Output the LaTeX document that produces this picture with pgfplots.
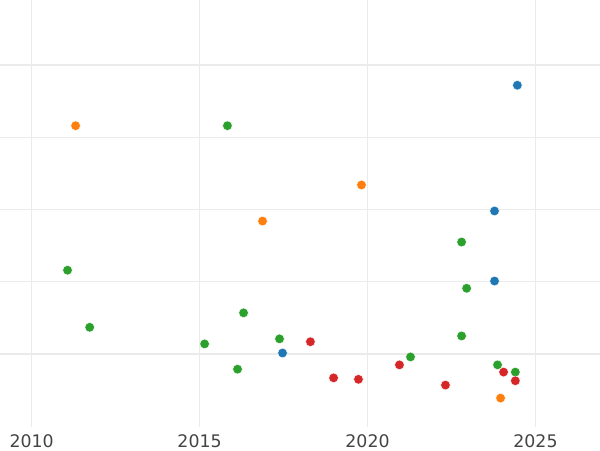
\documentclass[border=0pt]{standalone}
\usepackage{pgfplots}
\pgfplotsset{compat=1.18}
\usepackage{fontspec}
\setmainfont{DejaVu Sans}
\definecolor{cblue}{HTML}{1F77B4}
\definecolor{corange}{HTML}{FF7F0E}
\definecolor{cgreen}{HTML}{2CA02C}
\definecolor{cred}{HTML}{D62728}
\definecolor{gridc}{HTML}{EBEBEB}
\definecolor{tickc}{HTML}{444444}
\begin{document}
\begin{tikzpicture}
\path[use as bounding box] (0,-17.25pt) rectangle (450pt,320.25pt);
\begin{axis}[
  at={(0,0)}, anchor=south west,
  width=450pt, height=320.25pt, scale only axis,
  xmin=2009.06, xmax=2026.92,
  ymin=-1.01, ymax=4.9,
  axis line style={draw=none},
  xtick={2010,2015,2020,2025},
  ytick={0,2,4}, yticklabels={},
  minor ytick={1,3},
  major tick length=0pt, minor tick length=0pt,
  xmajorgrids, ymajorgrids, yminorgrids,
  x grid style={gridc, line width=0.75pt},
  major grid style={gridc, line width=1.4pt},
  minor grid style={gridc, line width=0.75pt},
  xticklabel style={anchor=center, yshift=-10.5pt, text=tickc, font=\fontsize{13}{15}\selectfont},
  /pgf/number format/assume math mode=true,
  xticklabel={\pgfmathprintnumber[1000 sep={}]{\tick}},
  clip=true,
]
\addplot[only marks, mark=*, mark size=3.6pt, mark options={fill=cblue, draw=white, line width=0.3pt}] coordinates {
(2024.46,3.72) (2023.78,1.98) (2023.78,1.01) (2017.47,0.014)
};
\addplot[only marks, mark=*, mark size=3.6pt, mark options={fill=corange, draw=white, line width=0.3pt}] coordinates {
(2011.31,3.16) (2019.82,2.34) (2016.875,1.84) (2023.96,-0.61)
};
\addplot[only marks, mark=*, mark size=3.6pt, mark options={fill=cgreen, draw=white, line width=0.3pt}] coordinates {
(2015.83,3.16) (2022.80,1.55) (2011.07,1.16) (2022.95,0.91) (2011.73,0.37)
(2016.31,0.57) (2015.15,0.14) (2017.38,0.21) (2016.13,-0.21) (2022.80,0.25)
(2021.28,-0.04) (2023.87,-0.15) (2024.40,-0.25)
};
\addplot[only marks, mark=*, mark size=3.6pt, mark options={fill=cred, draw=white, line width=0.3pt}] coordinates {
(2018.30,0.17) (2018.99,-0.33) (2019.73,-0.35) (2020.95,-0.15) (2022.32,-0.43)
(2024.05,-0.25) (2024.40,-0.37)
};
\end{axis}
\end{tikzpicture}
\end{document}
